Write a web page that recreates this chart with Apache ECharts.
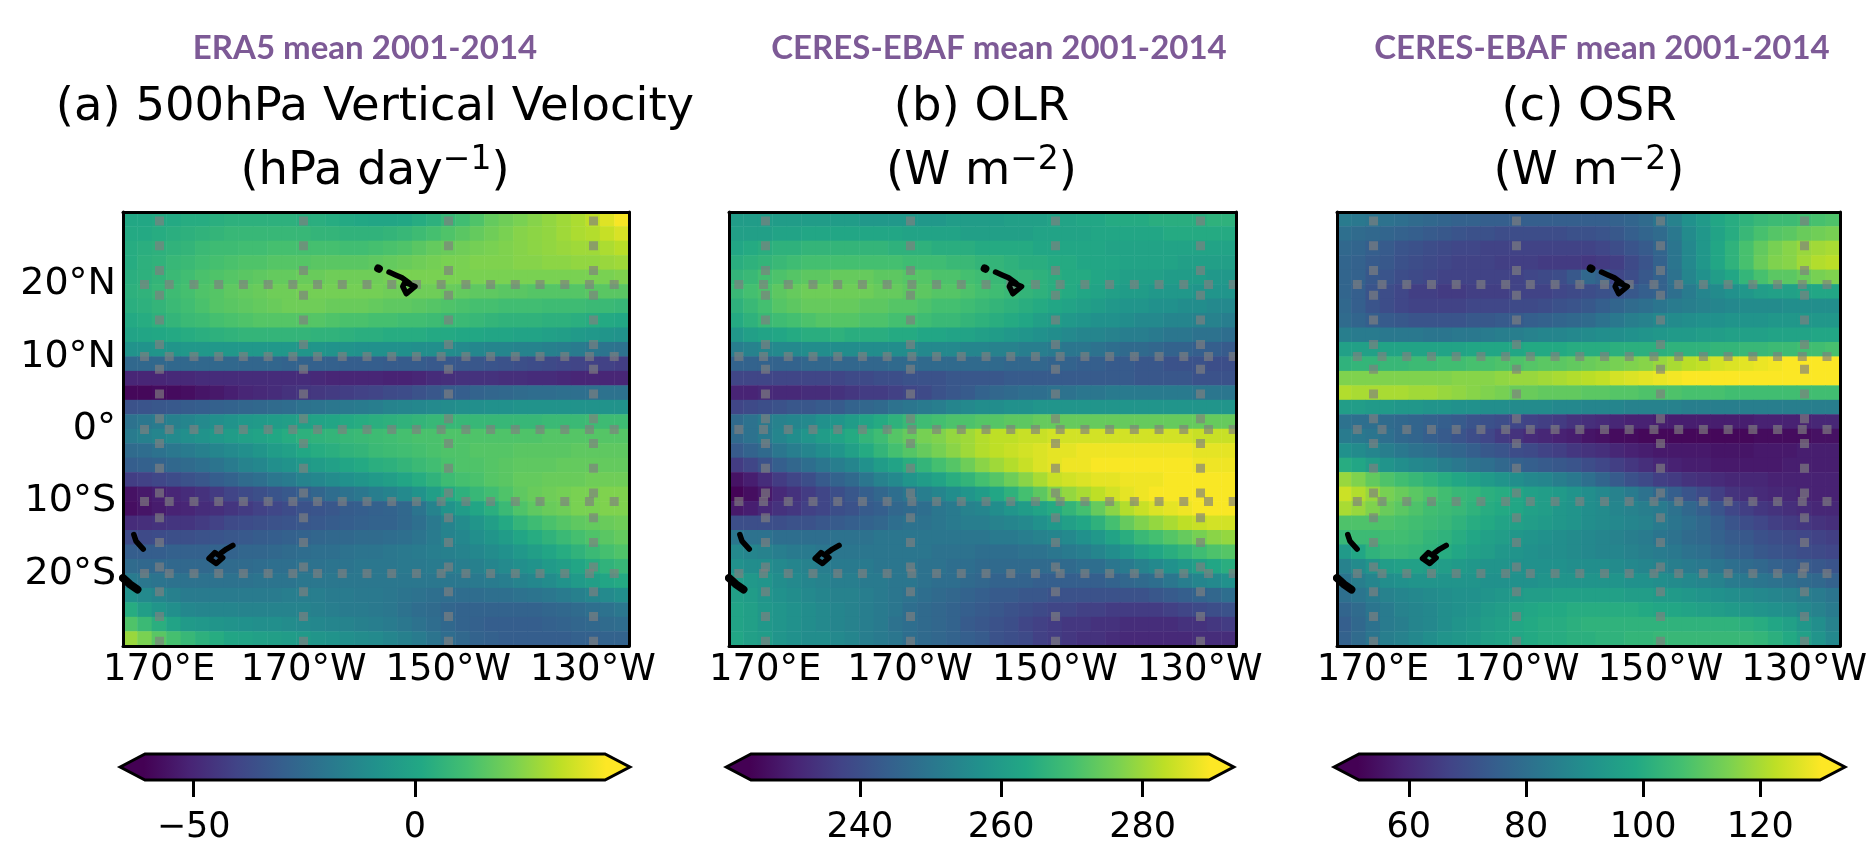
<!DOCTYPE html>
<html><head><meta charset="utf-8">
<style>html,body{margin:0;padding:0;background:#fff}#c{width:1870px;height:854px}</style>
<script src="https://cdn.jsdelivr.net/npm/echarts@6/dist/echarts.min.js"></script>
</head><body><div id="c"></div>
<script>
const lons = [166,168,170,172,174,176,178,180,182,184,186,188,190,192,194,196,198,200,202,204,206,208,210,212,214,216,218,220,222,224,226,228,230,232,234];
const lats = [29,27,25,23,21,19,17,15,13,11,9,7,5,3,1,-1,-3,-5,-7,-9,-11,-13,-15,-17,-19,-21,-23,-25,-27,-29];
const lonTicks = [170,190,210,230];
const latTicks = [-20,-10,0,10,20];

const omega = [
[1,1,2,2,3,3,4,5,5,5,5,5,4,4,3,2,1,0,0,1,3,5,8,11,14,18,20,22,24,26,28,30,33,38,42],
[2,2,3,4,5,6,7,8,8,8,8,8,8,7,7,6,6,6,7,8,10,12,14,16,18,20,22,24,25,26,28,30,31,34,37],
[3,4,5,6,7,9,10,10,11,11,12,12,12,12,12,11,11,12,13,14,16,18,19,20,21,22,23,24,25,26,27,28,28,30,32],
[3,5,6,8,9,11,12,13,14,14,15,15,15,16,16,16,16,17,18,19,20,21,22,22,23,23,23,24,24,25,25,26,26,27,28],
[4,5,7,9,11,13,14,15,16,17,18,18,19,19,20,20,20,20,21,22,22,22,22,22,22,22,22,22,22,22,22,22,22,22,23],
[5,6,8,10,12,14,15,17,18,19,20,20,21,21,21,21,21,21,20,20,20,20,19,18,17,17,16,16,15,15,15,15,16,16,16],
[4,5,7,9,11,13,15,16,17,18,19,20,20,20,19,19,19,18,17,17,16,15,14,13,12,12,11,11,11,10,10,10,9,9,8],
[2,3,5,7,9,10,12,13,14,15,15,15,15,15,14,13,13,12,12,11,11,10,9,9,8,7,6,6,6,5,5,4,3,2,1],
[-1,0,1,2,3,4,5,6,7,7,7,7,7,6,6,5,4,4,3,3,3,2,2,1,1,0,0,-1,-1,-2,-3,-5,-6,-7,-8],
[-8,-8,-7,-7,-6,-6,-6,-6,-6,-6,-6,-6,-7,-7,-8,-8,-9,-9,-9,-9,-10,-10,-11,-12,-13,-14,-14,-15,-15,-16,-17,-18,-20,-21,-22],
[-26,-26,-26,-26,-26,-26,-26,-26,-27,-27,-27,-28,-28,-29,-29,-30,-30,-30,-31,-31,-31,-32,-32,-33,-33,-34,-35,-36,-37,-38,-39,-40,-41,-41,-42],
[-50,-50,-50,-49,-49,-48,-48,-48,-48,-48,-48,-48,-48,-49,-50,-50,-50,-50,-51,-51,-50,-48,-47,-46,-46,-46,-47,-47,-48,-48,-49,-50,-50,-50,-50],
[-59,-59,-58,-58,-57,-55,-54,-52,-50,-49,-48,-46,-45,-44,-43,-42,-41,-40,-38,-37,-35,-33,-31,-30,-28,-27,-26,-25,-24,-24,-23,-23,-23,-22,-22],
[-35,-34,-33,-32,-31,-30,-29,-28,-27,-26,-25,-24,-22,-21,-20,-19,-18,-17,-15,-14,-13,-12,-11,-10,-10,-9,-9,-8,-8,-8,-8,-8,-8,-8,-8],
[-22,-20,-18,-16,-14,-12,-10,-8,-6,-5,-4,-3,-2,-1,0,2,3,4,5,6,7,8,8,8,8,8,8,8,8,9,9,9,10,10,10],
[-18,-16,-14,-12,-10,-8,-6,-4,-2,-1,1,3,5,6,7,8,9,10,11,12,13,13,14,14,14,14,14,14,14,15,15,15,15,15,15],
[-25,-24,-22,-20,-18,-16,-14,-12,-10,-7,-4,-2,1,3,4,6,7,9,10,11,12,13,14,14,15,15,15,16,16,16,16,17,17,17,17],
[-30,-29,-28,-26,-25,-23,-21,-18,-15,-13,-10,-8,-6,-4,-2,0,2,4,5,7,9,11,13,14,14,15,16,17,17,17,18,18,18,18,18],
[-42,-41,-39,-37,-35,-33,-30,-28,-25,-23,-20,-18,-15,-13,-11,-9,-7,-5,-3,0,3,6,10,12,13,15,16,18,18,19,19,19,20,20,20],
[-56,-54,-52,-50,-48,-46,-43,-40,-38,-36,-34,-32,-30,-27,-24,-22,-20,-17,-15,-12,-8,-3,2,5,8,11,14,17,19,20,21,22,22,23,23],
[-57,-55,-53,-51,-50,-48,-47,-45,-43,-41,-39,-37,-35,-34,-33,-31,-30,-29,-28,-26,-21,-15,-8,-4,0,4,9,14,17,19,20,22,22,23,23],
[-48,-47,-46,-45,-45,-43,-41,-38,-37,-36,-35,-34,-33,-32,-31,-30,-29,-28,-28,-26,-23,-19,-15,-11,-7,-3,2,7,10,13,15,17,18,19,20],
[-38,-38,-37,-36,-36,-35,-34,-33,-32,-31,-30,-29,-28,-27,-26,-26,-25,-25,-24,-23,-21,-18,-15,-13,-10,-7,-4,0,3,6,9,12,14,16,18],
[-30,-30,-30,-29,-29,-29,-28,-28,-27,-27,-26,-25,-24,-23,-23,-22,-21,-21,-20,-19,-18,-17,-16,-15,-13,-11,-9,-6,-3,0,3,6,9,12,14],
[-25,-26,-26,-26,-26,-26,-25,-25,-25,-24,-23,-23,-22,-22,-21,-21,-20,-20,-20,-19,-19,-18,-18,-17,-16,-14,-12,-10,-8,-5,-3,0,3,6,8],
[-18,-20,-21,-22,-22,-22,-22,-22,-22,-21,-21,-21,-20,-20,-20,-20,-20,-20,-20,-20,-20,-20,-20,-20,-19,-18,-17,-15,-13,-11,-8,-5,-3,0,2],
[-9,-12,-14,-16,-18,-18,-18,-18,-18,-18,-18,-17,-17,-17,-18,-18,-19,-19,-20,-21,-22,-23,-24,-24,-24,-23,-23,-22,-21,-20,-18,-16,-14,-12,-10],
[3,-3,-7,-10,-13,-14,-14,-14,-15,-15,-15,-15,-15,-16,-17,-18,-18,-19,-20,-22,-24,-25,-27,-28,-28,-28,-28,-28,-28,-27,-26,-25,-23,-22,-20],
[14,9,4,-1,-5,-6,-7,-8,-9,-10,-10,-11,-12,-13,-14,-15,-16,-17,-18,-20,-22,-24,-26,-28,-29,-30,-30,-30,-30,-29,-28,-27,-26,-25,-24],
[27,22,16,12,8,5,3,0,-1,-2,-3,-4,-5,-7,-8,-10,-11,-12,-14,-16,-18,-21,-24,-26,-28,-29,-30,-30,-30,-30,-30,-29,-29,-28,-28]
];
const olr = [
[260,260,260,260,260,260,260,260,260,259,259,259,259,259,259,260,260,260,260,261,261,261,262,262,263,263,264,264,264,265,265,265,265,266,266],
[261,261,261,262,262,263,263,263,263,263,263,263,262,262,262,262,261,261,261,261,261,262,262,262,262,263,263,263,263,263,264,264,264,264,264],
[263,264,265,266,266,267,267,267,267,267,267,266,266,266,265,265,265,264,264,264,264,263,263,263,263,263,262,262,262,262,262,262,262,262,262],
[265,266,267,268,269,270,270,270,270,270,270,270,269,269,269,268,268,267,267,266,265,265,264,264,263,263,263,262,262,262,262,261,261,261,261],
[267,268,270,271,272,273,273,274,274,274,273,273,272,272,271,271,270,269,268,267,267,266,265,264,264,263,262,261,261,261,260,260,260,259,259],
[268,270,271,273,274,275,275,275,275,275,274,274,273,273,272,272,271,270,269,268,267,266,265,264,263,262,261,260,260,259,259,259,258,258,258],
[266,268,270,272,273,274,274,274,274,273,273,272,272,271,270,270,269,268,267,266,265,264,263,262,261,260,259,258,258,257,257,256,256,255,255],
[264,266,268,269,270,271,272,272,272,271,271,270,270,269,268,268,267,266,265,264,263,261,260,259,258,257,257,256,255,255,254,254,253,253,252],
[259,261,262,263,264,265,265,266,265,265,265,264,264,263,263,262,262,261,260,259,258,257,256,255,254,254,253,252,252,251,250,250,249,249,248],
[252,253,254,255,255,256,256,256,256,256,256,256,256,255,255,255,254,254,253,253,252,252,251,250,250,249,248,247,247,246,245,245,244,244,243],
[245,245,245,245,245,246,246,246,246,246,246,247,247,247,247,247,247,247,247,246,246,246,245,245,244,244,243,243,242,242,241,241,241,240,240],
[238,238,238,238,238,238,238,238,239,239,240,240,241,241,241,242,242,242,242,243,243,243,243,243,243,243,243,243,242,242,242,242,241,241,241],
[231,231,232,232,232,233,233,234,235,236,236,237,238,239,241,242,243,245,246,247,248,248,249,249,250,250,251,251,251,251,251,251,250,250,250],
[238,239,240,241,242,242,243,243,245,246,247,249,250,251,252,254,255,256,256,257,257,258,258,258,258,258,258,258,258,258,258,258,258,258,258],
[247,249,251,253,254,255,257,258,260,262,264,266,268,269,270,271,271,272,272,273,273,274,274,274,274,274,274,274,274,274,274,274,274,274,274],
[247,249,251,254,256,258,260,262,264,267,269,272,274,276,277,279,280,282,283,283,284,284,285,285,285,285,285,285,285,285,285,285,284,284,284],
[243,245,247,250,252,254,256,258,261,264,267,270,272,274,276,278,280,282,283,284,285,286,287,287,288,288,288,288,288,288,288,288,287,287,287],
[236,238,241,244,246,248,250,252,254,257,260,262,265,267,270,272,275,278,280,282,284,286,287,288,288,289,289,289,289,289,289,289,288,288,288],
[228,230,233,236,238,240,243,245,247,250,253,255,258,260,262,265,267,270,272,275,278,281,284,285,286,287,287,288,288,288,289,289,289,289,289],
[225,227,229,232,234,236,238,240,242,244,246,248,250,252,254,256,258,260,263,266,270,273,277,279,281,283,285,287,288,289,289,289,289,289,289],
[229,230,232,234,235,237,238,240,241,243,244,246,247,248,250,251,253,254,256,258,260,262,264,267,270,274,278,282,284,286,287,288,289,289,289],
[240,240,240,240,241,241,242,243,244,245,246,248,249,249,250,251,252,252,253,254,255,257,259,261,263,266,270,274,277,279,281,283,284,285,285],
[250,249,249,248,248,248,248,249,249,249,250,250,250,250,250,250,250,250,251,251,252,253,254,255,257,259,262,265,268,270,272,274,276,278,279],
[255,254,253,252,251,251,250,250,250,250,250,250,250,250,249,249,249,248,248,248,249,249,250,251,252,254,256,258,261,263,265,267,269,271,272],
[257,256,256,255,254,253,252,251,251,251,250,250,250,249,249,248,248,247,247,247,247,247,247,247,248,248,250,251,253,255,257,259,261,263,265],
[260,259,258,256,255,254,253,252,252,251,251,250,250,249,248,248,247,246,245,245,245,244,244,244,244,244,245,246,247,248,250,252,254,255,257],
[261,260,258,257,256,255,254,253,253,252,251,250,249,248,247,246,245,244,243,243,242,242,241,241,241,241,241,241,241,242,243,244,245,246,248],
[262,261,259,258,257,256,255,254,253,252,251,250,248,247,246,245,244,243,242,241,240,239,238,238,237,237,236,236,236,236,237,238,239,240,241],
[262,261,259,258,257,256,255,254,253,252,251,249,248,247,246,245,243,242,241,240,238,237,236,235,235,234,234,233,233,233,233,234,234,235,236],
[263,261,260,258,257,256,256,255,254,252,251,250,248,247,246,245,244,243,241,240,239,237,236,235,234,234,233,232,232,232,232,232,233,233,233]
];
const osr = [
[84,83,82,81,80,79,78,77,76,76,75,75,75,75,75,75,75,75,75,76,77,79,82,86,91,94,98,100,102,104,105,105,106,107,108],
[80,79,78,77,76,75,74,73,72,71,71,70,70,70,70,70,71,71,72,73,75,77,79,83,89,93,97,100,104,107,109,110,112,113,114],
[78,77,75,74,72,71,70,69,68,68,67,67,67,67,67,67,67,67,68,70,72,74,77,82,88,93,98,102,107,111,114,116,118,119,120],
[77,76,74,73,71,70,69,68,67,67,67,66,66,66,65,65,65,64,65,66,69,72,76,82,88,93,98,102,107,112,115,116,119,121,122],
[77,76,73,72,70,69,68,67,67,67,67,67,67,68,69,70,73,78,76,68,70,73,76,81,87,91,95,98,103,107,110,110,112,114,115],
[77,75,72,70,68,66,66,65,65,66,66,66,67,67,67,68,69,70,71,72,73,75,76,80,84,87,89,91,93,95,96,96,97,98,98],
[78,75,72,70,68,67,67,67,67,68,68,68,69,69,70,71,72,73,75,77,79,80,82,84,85,86,87,88,89,89,89,90,90,90,90],
[79,77,75,74,73,72,72,72,72,73,73,74,74,75,76,77,78,79,81,83,85,86,88,89,90,91,91,92,92,92,93,93,93,93,93],
[85,84,84,83,83,83,82,82,83,83,84,85,85,86,87,87,88,89,90,90,91,92,93,94,94,95,95,96,96,96,97,97,97,98,98],
[96,96,96,97,97,97,97,97,97,98,98,98,98,99,99,99,100,100,100,101,101,101,101,102,102,102,103,103,104,104,105,105,106,106,107],
[102,103,103,104,104,105,105,106,106,107,107,108,108,109,110,110,111,112,113,114,115,116,118,120,122,123,125,126,127,128,129,130,130,130,130],
[115,115,115,115,115,115,115,115,116,116,116,117,118,118,119,120,121,122,123,125,126,127,128,129,130,130,130,130,130,130,130,130,130,130,130],
[121,120,120,120,120,119,119,118,117,116,115,114,112,112,111,111,111,110,110,109,109,108,108,108,107,107,107,106,106,106,106,106,106,106,106],
[95,95,94,94,93,93,92,92,91,91,90,90,89,89,89,88,88,87,87,87,86,86,86,86,85,85,85,85,85,85,85,85,85,85,85],
[81,80,80,79,78,77,76,75,74,72,71,70,68,67,66,65,63,62,61,60,59,59,58,58,58,58,58,58,58,59,59,59,59,60,60],
[84,83,82,80,78,77,75,74,72,70,68,65,63,61,60,59,58,56,55,54,54,53,53,53,53,53,53,53,53,54,54,54,54,55,55],
[91,89,87,85,83,81,80,78,77,75,73,72,70,69,67,66,64,63,62,60,59,58,57,57,57,57,56,56,56,57,57,57,58,58,58],
[100,98,95,92,90,88,87,85,83,81,80,78,76,75,74,73,72,70,68,66,64,62,60,59,58,58,57,57,57,57,57,58,58,58,58],
[118,115,111,108,106,104,102,100,98,96,94,92,90,88,87,85,83,80,77,74,71,69,66,65,63,62,61,60,60,60,59,59,59,59,59],
[124,121,118,114,112,110,108,106,104,103,101,100,98,96,95,94,92,90,88,86,84,81,78,75,72,69,66,63,62,61,60,60,59,59,59],
[120,118,115,112,110,108,106,105,104,102,100,99,98,96,95,93,92,90,89,87,86,85,84,81,78,75,72,68,66,64,63,62,61,60,60],
[108,108,108,108,107,106,105,104,102,100,99,97,96,95,94,93,92,90,89,88,87,86,84,82,80,78,75,72,70,68,66,65,64,63,62],
[104,105,105,106,106,105,103,102,100,98,96,95,93,92,91,90,89,88,87,86,85,84,82,81,79,78,76,74,73,71,70,69,68,67,66],
[94,98,102,104,104,103,102,100,98,96,95,93,92,91,90,90,89,88,87,87,86,85,84,83,81,80,78,76,75,73,72,71,70,69,68],
[86,89,92,95,96,96,95,95,94,93,92,92,91,91,91,91,90,90,90,89,88,87,86,85,84,83,82,80,79,78,76,75,74,73,72],
[82,85,87,90,91,92,92,92,92,92,91,91,91,91,92,92,92,92,92,92,91,91,90,89,88,87,86,84,83,82,81,80,79,78,76],
[80,82,84,86,87,88,89,90,91,91,92,93,94,95,95,96,96,96,96,96,95,95,94,94,93,92,91,90,89,88,87,86,85,84,82],
[77,79,82,84,86,87,88,90,91,92,94,95,97,98,99,99,100,100,100,100,100,99,98,98,97,96,95,94,93,92,91,90,88,86,84],
[75,78,81,84,85,87,88,90,92,93,95,96,98,99,100,100,101,102,102,102,102,102,102,102,102,102,102,102,101,100,98,96,93,90,86],
[76,79,82,85,86,88,90,92,93,94,96,97,98,99,100,100,101,101,102,102,103,103,104,104,104,104,104,104,104,103,101,99,96,92,88]
];
const omegaRange = [-61,43], olrRange = [224.6,289.4], osrRange = [51.5,130.2];
const omegaTicks = [-50,0], olrTicks = [240,260,280], osrTicks = [60,80,100,120];

// coastlines, [lon east of 0, lat]
const kauai = [[200.3,22.2],[200.4,22.15]];
const hawaiiChain = [[201.8,21.7],[202.7,21.3],[203.6,20.9],[204.6,20.2]];
const bigIsland = [[204.0,20.3],[205.4,19.7],[204.2,18.7],[203.7,19.7],[204.0,20.3]];
const vitiLevu = [[176.9,-17.9],[177.7,-17.1],[178.8,-17.8],[177.9,-18.6],[176.9,-17.9]];
const vanuaLevu = [[178.6,-17.1],[179.3,-16.6],[180.2,-16.1]];
const vanuatu = [[166.5,-14.6],[166.8,-15.5],[167.8,-16.6]];
const newCaledonia = [[165,-20.6],[166,-21.5],[167,-22.2]];
const coasts = [kauai,hawaiiChain,bigIsland,vitiLevu,vanuaLevu,vanuatu,newCaledonia];

const viridis = ['#440154','#482475','#414487','#355f8d','#2a788e','#21918c','#22a884','#44bf70','#7ad151','#bddf26','#fde725'];

const panels = [
 {values:omega, range:omegaRange, ticks:omegaTicks, left:123, right:629, barLeft:145, barRight:605, head:'ERA5 mean 2001-2014', headX:360,
  line1:'(a) 500hPa Vertical Velocity', line2:'(hPa day{s|\u22121})', dash:7.7, yLabels:true},
 {values:olr, range:olrRange, ticks:olrTicks, left:729, right:1236, barLeft:751, barRight:1209, head:'CERES-EBAF mean 2001-2014', headX:994,
  line1:'(b) OLR', line2:'(W m{s|\u22122})', dash:19.4, yLabels:false},
 {values:osr, range:osrRange, ticks:osrTicks, left:1337, right:1843, barLeft:1359, barRight:1820, head:'CERES-EBAF mean 2001-2014', headX:1597,
  line1:'(c) OSR', line2:'(W m{s|\u22122})', dash:8.9, yLabels:false}
];
const FONT = '"DejaVu Sans"';
const plotTop = 212, plotH = 434, barTop = 754, barH = 26, extFrac = 0.054;
const grid=[], xAxis=[], yAxis=[], series=[], visualMap=[], title=[];
const lonFmt = v => v<=180 ? v+'°E' : (360-v)+'°W';
const latFmt = v => v===0 ? '0°' : v>0 ? v+'°N' : (-v)+'°S';
const gridLine = (offset) => ({show:true, lineStyle:{color:'rgba(128,128,128,0.66)', width:9, type:[9,15.72], dashOffset:offset}});
const coastWidth = seg => seg===kauai ? 8 : seg===newCaledonia ? 8 : 5.5;

panels.forEach((p)=>{
  const g = grid.length;
  grid.push({left:p.left, top:plotTop, width:p.right-p.left, height:plotH, containLabel:false});
  const cx = (p.left+p.right)/2 - 6;
  title.push({text:p.head,left:p.headX,top:27,textAlign:'center',textStyle:{fontFamily:'Lato',fontWeight:'bold',fontSize:33,color:'#7d5a96'}});
  title.push({text:p.line1,left:cx,top:79,textAlign:'center',textStyle:{fontFamily:FONT,fontWeight:'normal',fontSize:46.5,color:'#000'}});
  title.push({text:p.line2,left:cx,top:139,textAlign:'center',textStyle:{fontFamily:FONT,fontWeight:'normal',fontSize:46.5,color:'#000',
     rich:{s:{fontFamily:FONT,fontSize:33,padding:[0,0,22,0],color:'#000'}}}});

  const xc = xAxis.length, yc = yAxis.length;
  xAxis.push({gridIndex:g,type:'category',data:lons,show:false,position:'top'});
  yAxis.push({gridIndex:g,type:'category',data:lats,inverse:true,show:false,position:'right'});
  const xv = xAxis.length;
  xAxis.push({gridIndex:g,type:'value',min:165,max:235,position:'bottom',z:5,
    axisLine:{show:true,onZero:false,lineStyle:{color:'#000',width:3}},
    axisTick:{show:false,customValues:lonTicks},
    axisLabel:{show:true,customValues:lonTicks,formatter:lonFmt,fontFamily:FONT,fontSize:37,color:'#000',margin:6},
    splitLine:gridLine(20.2)});
  const yv = yAxis.length;
  yAxis.push({gridIndex:g,type:'value',min:-30,max:30,position:'left',z:5,
    axisLine:{show:true,onZero:false,lineStyle:{color:'#000',width:3}},
    axisTick:{show:false,customValues:latTicks},
    axisLabel:{show:p.yLabels,customValues:latTicks,formatter:latFmt,fontFamily:FONT,fontSize:38,color:'#000',margin:7},
    splitLine:gridLine(p.dash)});
  xAxis.push({gridIndex:g,type:'value',min:165,max:235,position:'top',z:7,
    axisLine:{show:true,onZero:false,lineStyle:{color:'#000',width:3}},axisTick:{show:false},axisLabel:{show:false},splitLine:{show:false}});
  yAxis.push({gridIndex:g,type:'value',min:-30,max:30,position:'right',z:7,
    axisLine:{show:true,onZero:false,lineStyle:{color:'#000',width:3}},axisTick:{show:false},axisLabel:{show:false},splitLine:{show:false}});

  const cells=[];
  p.values.forEach((row,r)=>row.forEach((v,c)=>cells.push([c,r,v])));
  visualMap.push({show:false,type:'continuous',min:p.range[0],max:p.range[1],dimension:2,seriesIndex:series.length,
    inRange:{color:viridis}});
  series.push({type:'heatmap',xAxisIndex:xc,yAxisIndex:yc,data:cells,z:2,progressive:0,silent:true,itemStyle:{borderWidth:0}});
  coasts.forEach(seg=>series.push({type:'line',xAxisIndex:xv,yAxisIndex:yv,data:seg,z:6,silent:true,showSymbol:false,symbol:'none',clip:true,
     lineStyle:{color:'#000',width:coastWidth(seg),cap:'round',join:'round'}}));

  // colorbar
  const gb = grid.length;
  grid.push({left:p.barLeft,top:barTop,width:p.barRight-p.barLeft,height:barH,containLabel:false});
  const xb = xAxis.length, yb = yAxis.length;
  xAxis.push({gridIndex:gb,type:'value',min:p.range[0],max:p.range[1],position:'bottom',
    axisLine:{show:false,onZero:false},
    axisTick:{show:true,length:17,customValues:p.ticks,lineStyle:{color:'#000',width:3}},
    axisLabel:{show:true,customValues:p.ticks,fontFamily:FONT,fontSize:35,color:'#000',margin:30,formatter:v=>String(v).replace('-','\u2212')},
    splitLine:{show:false}});
  yAxis.push({gridIndex:gb,type:'value',min:0,max:1,show:false});
  const span = p.range[1]-p.range[0], ext = span*extFrac;
  const s0 = extFrac/(1+2*extFrac), s1 = 1-s0;
  const stops=[{offset:0,color:viridis[0]}];
  viridis.forEach((c,i)=>stops.push({offset:s0+(s1-s0)*i/(viridis.length-1),color:c}));
  stops.push({offset:1,color:viridis[viridis.length-1]});
  series.push({type:'custom',xAxisIndex:xb,yAxisIndex:yb,data:[[p.range[0],p.range[1]]],clip:false,silent:true,z:3,
    encode:{x:[0,1]},
    renderItem:(params,api)=>{
      const a=api.value(0), b=api.value(1);
      const pts=[[a-ext,.5],[a,1],[b,1],[b+ext,.5],[b,0],[a,0]].map(q=>api.coord(q));
      return {type:'polygon',shape:{points:pts},
        style:{fill:new echarts.graphic.LinearGradient(0,0,1,0,stops),stroke:'#000',lineWidth:3,lineJoin:'miter'}};
    }});
});

const chart = echarts.init(document.getElementById('c'),null,{renderer:'canvas'});
chart.setOption({animation:false,backgroundColor:'#fff',title,grid,xAxis,yAxis,visualMap,series,tooltip:{show:false}});
</script></body></html>
